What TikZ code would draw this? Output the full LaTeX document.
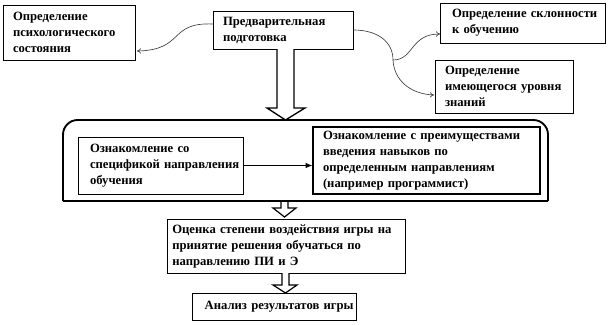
\documentclass[tikz,border=0pt]{standalone}
\usepackage{fontspec}
\setmainfont{Liberation Serif}
\usetikzlibrary{arrows.meta}
\tikzset{
  box/.style n args={3}{draw, line width=0.6pt, align=left, text width=#1,
    minimum height=#2, inner xsep=1.5pt, inner ysep=1pt,
    execute at begin node={\leftskip=#3\relax},
    font=\bfseries\fontsize{9.5}{12}\selectfont},
  curvearrow/.style={draw=black!75, line width=0.5pt},
  hollow/.style={draw, line width=1pt, fill=white, line join=miter},
  hollowthin/.style={draw, line width=0.9pt, fill=white, line join=miter},
}
\begin{document}
\begin{tikzpicture}[x=0.75pt,y=-0.75pt]
\useasboundingbox (0,0) rectangle (612,325);

% top row
\node[box={96pt}{41.25pt}{6pt}] (n1) at (69,32.5) {Определение\\психологического\\состояния};
\node[box={102pt}{28.5pt}{6pt}] (n2) at (283,30) {Предварительная\\подготовка};
\node[box={120.75pt}{30pt}{7.5pt}] (n3) at (522.5,23) {Определение~склонности\\к обучению};
\node[box={100.5pt}{39.75pt}{6pt}] (n4) at (504,86.5) {Определение\\имеющегося~уровня\\знаний};

% curved connectors
\coordinate (e1) at (137,51);
\coordinate (j) at (393,60);
\coordinate (e3) at (440,34);
\coordinate (e4) at (434,95);
\coordinate (s2l) at (213,24);
\draw[curvearrow,-{To[length=3pt,width=4pt]}] (s2l) .. controls (168,22) and (185,50) .. (e1);
\draw[curvearrow] (n2.east) .. controls (378,30) and (393,42) .. (j);
\draw[curvearrow,-{To[length=3pt,width=4pt]}] (j) .. controls (414,60) and (410,34) .. (e3);
\draw[curvearrow,-{To[length=3pt,width=4pt]}] (j) .. controls (394,80) and (410,94) .. (e4);

% big hollow arrow
\draw[hollow] (277,49) -- (277,108) -- (267,108) -- (285.5,120) -- (305,108) -- (294,108) -- (294,49);

% container with rounded top corners
\draw[line width=1.4pt, rounded corners=11pt] (63,201) |- (305,120) -| (548,201);
\draw[line width=1.4pt] (548,201) -- (63,201);

% inner boxes
\node[box={120.75pt}{42.75pt}{7.5pt}] (na) at (160.5,165.5) {Ознакомление со\\спецификой~направления\\обучения};
\node[box={167.25pt}{50.25pt}{6pt}, line width=0.9pt] (nb) at (426.5,160.5) {Ознакомление с преимуществами\\введения навыков по\\определенным направлениям\\(например программист)};
\draw[line width=0.6pt,-{Latex[length=5pt,width=4pt]}] (na.east) -- (nb.west |- na.east);

% small hollow arrow 1
\draw[hollowthin] (281,202) -- (281,208) -- (273,208) -- (284.5,217) -- (296,208) -- (288,208) -- (288,202);

% evaluation box
\node[box={175.5pt}{40.5pt}{2.5pt}] (nc) at (286,246) {Оценка степени воздействия игры на\\принятие решения обучаться по\\направлению ПИ и Э};

% small hollow arrow 2
\draw[hollowthin] (282,273) -- (282,285) -- (273,285) -- (285.5,293) -- (297,285) -- (289,285) -- (289,273);

% analysis box
\node[box={120pt}{20.25pt}{8pt}] (nd) at (274,306.5) {Анализ~результатов~игры};
\end{tikzpicture}
\end{document}
